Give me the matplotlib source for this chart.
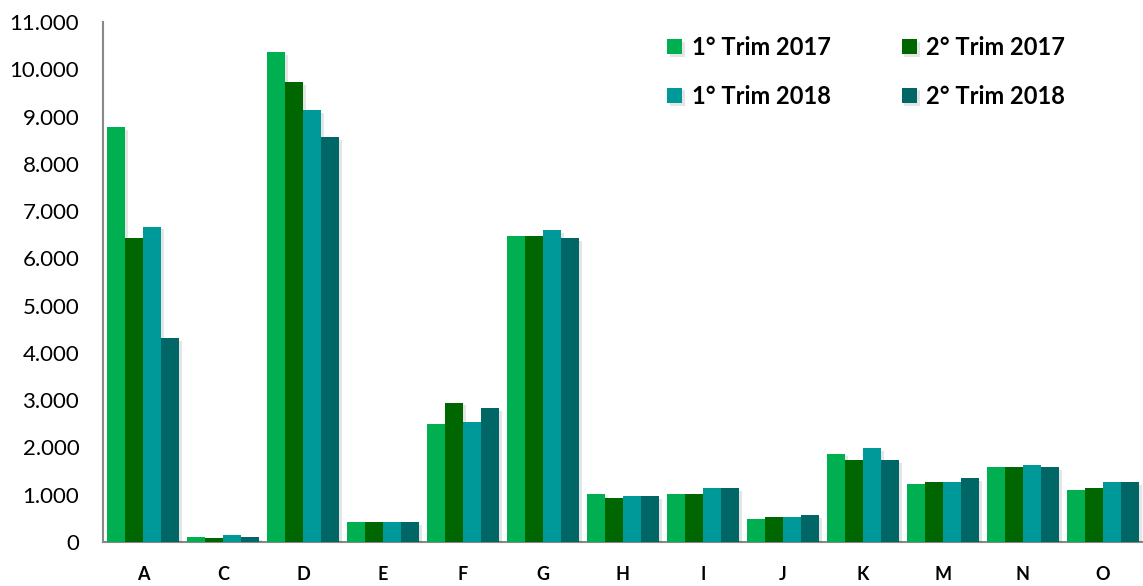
import numpy as np
import matplotlib
matplotlib.use("Agg")
import matplotlib.pyplot as plt
from matplotlib.ticker import FuncFormatter
import matplotlib.patheffects as pe

plt.rcParams['font.family'] = ['Lato', 'DejaVu Sans']

categories = ["A", "C", "D", "E", "F", "G", "H", "I", "J", "K", "M", "N", "O"]
series_names = ["1° Trim 2017", "2° Trim 2017", "1° Trim 2018", "2° Trim 2018"]
trim1_2017 = [8770, 100, 10370, 420, 2500, 6480, 1020, 1020, 490, 1870, 1220, 1580, 1100]
trim2_2017 = [6440, 90, 9720, 420, 2950, 6480, 940, 1020, 530, 1740, 1265, 1580, 1140]
trim1_2018 = [6670, 140, 9130, 420, 2540, 6600, 975, 1140, 530, 1980, 1265, 1620, 1265]
trim2_2018 = [4310, 100, 8570, 420, 2830, 6430, 975, 1140, 570, 1740, 1345, 1580, 1265]
colors = ["#00B050", "#006600", "#009999", "#006666"]

fig = plt.figure(figsize=(11.43, 5.86), dpi=100)
ax = fig.add_axes([0.09, 0.075, 0.91, 0.8875])

x = np.arange(len(categories))
w = 0.225
handles = []
for i, vals in enumerate([trim1_2017, trim2_2017, trim1_2018, trim2_2018]):
    bars = ax.bar(x + (i - 1.5) * w, vals, width=w, color=colors[i],
                  label=series_names[i], zorder=3)
    for b in bars:
        b.set_path_effects([pe.SimplePatchShadow(offset=(2, -2), alpha=0.1, shadow_rgbFace="black"),
                            pe.Normal()])
    handles.append(bars)

ax.set_xlim(-0.5, len(categories) - 0.5)
ax.set_ylim(0, 11000)
ax.set_yticks(np.arange(0, 11001, 1000))
ax.yaxis.set_major_formatter(FuncFormatter(lambda v, p: f"{int(v):,}".replace(",", ".")))
ax.set_xticks(x)
ax.set_xticklabels(categories, fontweight="bold", fontsize=13)
ax.tick_params(axis="y", length=0, labelsize=16, pad=17)
ax.tick_params(axis="x", length=0, pad=17)
for s in ["top", "right"]:
    ax.spines[s].set_visible(False)
for s in ["left", "bottom"]:
    ax.spines[s].set_color("#888888")
    ax.spines[s].set_linewidth(1.5)

order = [0, 2, 1, 3]
leg = fig.legend([handles[k] for k in order], [series_names[k] for k in order],
                 ncol=2, loc="upper left", bbox_to_anchor=(0.565, 0.975),
                 frameon=False, prop={"weight": "bold", "size": 17},
                 handlelength=0.65, handleheight=0.65, handletextpad=0.4,
                 columnspacing=3.0, labelspacing=1.1)

fig.savefig("out.png", dpi=100)
